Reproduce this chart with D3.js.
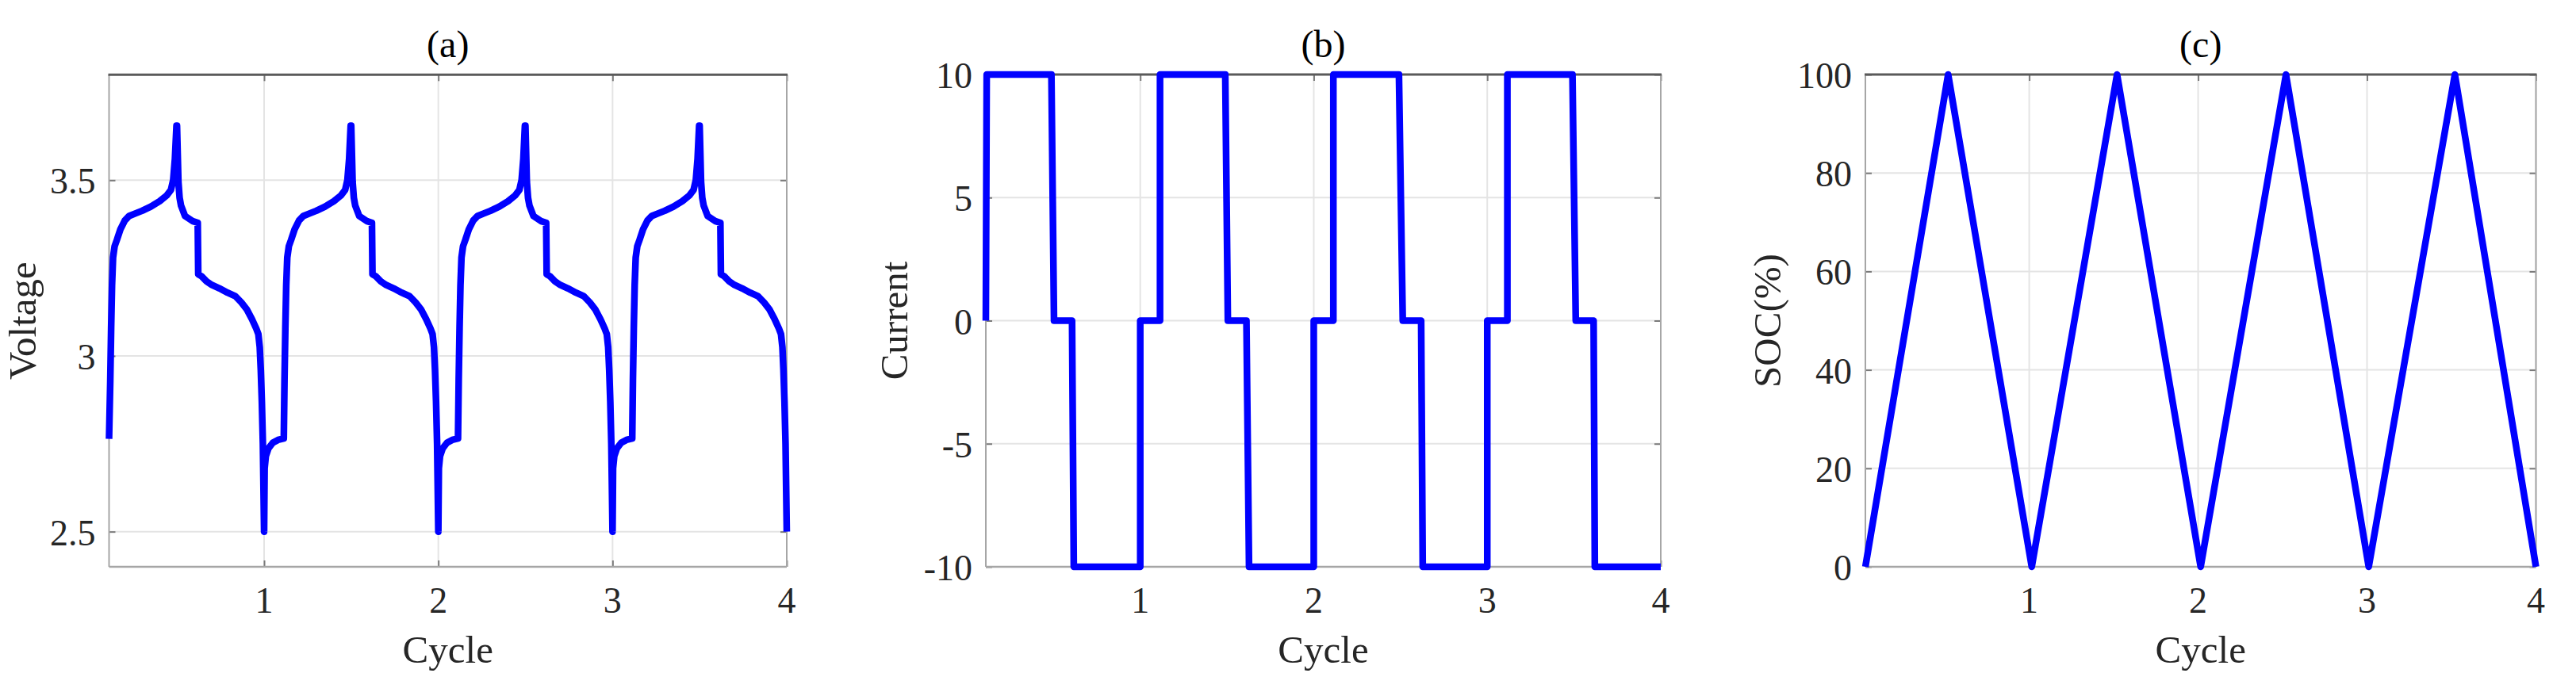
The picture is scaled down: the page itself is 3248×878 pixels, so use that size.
<!DOCTYPE html>
<html>
<head>
<meta charset="utf-8">
<script src="https://cdn.jsdelivr.net/npm/d3@7"></script>
<style>
  html, body { margin: 0; padding: 0; background: #ffffff; }
  svg { display: block; }
</style>
</head>
<body>
<svg id="chart" width="3248" height="878"></svg>
<script>
// ---------------- DATA ----------------
const panelTitles = ["(a)", "(b)", "(c)"];
const yLabels = ["Voltage", "Current", "SOC(%)"];
const xLabel = "Cycle";
const cycleTicks = [1, 2, 3, 4];
const voltageTicks = [2.5, 3, 3.5];
const currentTicks = [-10, -5, 0, 5, 10];
const socTicks = [0, 20, 40, 60, 80, 100];

// Voltage (panel a), cycle by cycle
const voltageX = [
  0.110, 0.117, 0.122, 0.127, 0.133, 0.142, 0.155, 0.175, 0.200, 0.225, 0.260, 0.300, 0.350, 0.400, 0.440, 0.465, 0.478, 0.488, 0.497, 0.500, 0.508, 0.515, 0.523, 0.546, 0.592, 0.619,
  0.622, 0.640, 0.670, 0.700, 0.744, 0.790, 0.835, 0.870, 0.900, 0.930, 0.955, 0.967, 0.975, 0.981, 0.987, 0.993, 1.000,
  1.003, 1.010, 1.025, 1.050, 1.080, 1.113,
  1.117, 1.122, 1.127, 1.133, 1.142, 1.155, 1.175, 1.200, 1.225, 1.260, 1.300, 1.350, 1.400, 1.440, 1.465, 1.478, 1.488, 1.497, 1.500, 1.508, 1.515, 1.523, 1.546, 1.592, 1.619,
  1.622, 1.640, 1.670, 1.700, 1.744, 1.790, 1.835, 1.870, 1.900, 1.930, 1.955, 1.967, 1.975, 1.981, 1.987, 1.993, 2.000,
  2.003, 2.010, 2.025, 2.050, 2.080, 2.113,
  2.117, 2.122, 2.127, 2.133, 2.142, 2.155, 2.175, 2.200, 2.225, 2.260, 2.300, 2.350, 2.400, 2.440, 2.465, 2.478, 2.488, 2.497, 2.500, 2.508, 2.515, 2.523, 2.546, 2.592, 2.619,
  2.622, 2.640, 2.670, 2.700, 2.744, 2.790, 2.835, 2.870, 2.900, 2.930, 2.955, 2.967, 2.975, 2.981, 2.987, 2.993, 3.000,
  3.003, 3.010, 3.025, 3.050, 3.080, 3.113,
  3.117, 3.122, 3.127, 3.133, 3.142, 3.155, 3.175, 3.200, 3.225, 3.260, 3.300, 3.350, 3.400, 3.440, 3.465, 3.478, 3.488, 3.497, 3.500, 3.508, 3.515, 3.523, 3.546, 3.592, 3.619,
  3.622, 3.640, 3.670, 3.700, 3.744, 3.790, 3.835, 3.870, 3.900, 3.930, 3.955, 3.967, 3.975, 3.981, 3.987, 3.993, 4.000
];
const voltageY = [
  2.764, 2.93, 3.08, 3.20, 3.28, 3.312, 3.33, 3.36, 3.385, 3.398, 3.405, 3.413, 3.425, 3.44, 3.456, 3.472, 3.50, 3.56, 3.655, 3.655, 3.496, 3.45, 3.428, 3.398, 3.383, 3.379,
  3.232, 3.227, 3.212, 3.202, 3.192, 3.18, 3.17, 3.152, 3.133, 3.105, 3.078, 3.062, 3.025, 2.96, 2.87, 2.75, 2.50,
  2.68, 2.715, 2.737, 2.753, 2.761, 2.765,
  2.93, 3.08, 3.20, 3.28, 3.312, 3.33, 3.36, 3.385, 3.398, 3.405, 3.413, 3.425, 3.44, 3.456, 3.472, 3.50, 3.56, 3.655, 3.655, 3.496, 3.45, 3.428, 3.398, 3.383, 3.379,
  3.232, 3.227, 3.212, 3.202, 3.192, 3.18, 3.17, 3.152, 3.133, 3.105, 3.078, 3.062, 3.025, 2.96, 2.87, 2.75, 2.50,
  2.68, 2.715, 2.737, 2.753, 2.761, 2.765,
  2.93, 3.08, 3.20, 3.28, 3.312, 3.33, 3.36, 3.385, 3.398, 3.405, 3.413, 3.425, 3.44, 3.456, 3.472, 3.50, 3.56, 3.655, 3.655, 3.496, 3.45, 3.428, 3.398, 3.383, 3.379,
  3.232, 3.227, 3.212, 3.202, 3.192, 3.18, 3.17, 3.152, 3.133, 3.105, 3.078, 3.062, 3.025, 2.96, 2.87, 2.75, 2.50,
  2.68, 2.715, 2.737, 2.753, 2.761, 2.765,
  2.93, 3.08, 3.20, 3.28, 3.312, 3.33, 3.36, 3.385, 3.398, 3.405, 3.413, 3.425, 3.44, 3.456, 3.472, 3.50, 3.56, 3.655, 3.655, 3.496, 3.45, 3.428, 3.398, 3.383, 3.379,
  3.232, 3.227, 3.212, 3.202, 3.192, 3.18, 3.17, 3.152, 3.133, 3.105, 3.078, 3.062, 3.025, 2.96, 2.87, 2.75, 2.50
];

// Current (panel b)
const currentX = [0.110, 0.115, 0.488, 0.503, 0.607, 0.617, 1.000, 1.000, 1.114, 1.114,
                  1.490, 1.505, 1.612, 1.627, 2.000, 2.000, 2.113, 2.113,
                  2.491, 2.513, 2.619, 2.628, 3.000, 3.000, 3.116, 3.116,
                  3.491, 3.510, 3.613, 3.620, 4.000];
const currentY = [0, 10, 10, 0, 0, -10, -10, 0, 0, 10,
                  10, 0, 0, -10, -10, 0, 0, 10,
                  10, 0, 0, -10, -10, 0, 0, 10,
                  10, 0, 0, -10, -10];

// SOC (panel c)
const socX = [0.030, 0.520, 1.015, 1.520, 2.015, 2.520, 3.010, 3.520, 4.000];
const socY = [0, 100, 0, 100, 0, 100, 0, 100, 0];

// ---------------- LAYOUT ----------------
const panels = [
  { left: 137.5, right: 992, top: 94.3, bottom: 715, xDomain: [0.11, 4], yDomain: [2.4, 3.8],
    xs: voltageX, ys: voltageY, yTicks: voltageTicks, title: panelTitles[0], yLabel: yLabels[0], yLabelX: 45 },
  { left: 1243, right: 2094, top: 94, bottom: 715, xDomain: [0.11, 4], yDomain: [-10, 10],
    xs: currentX, ys: currentY, yTicks: currentTicks, title: panelTitles[1], yLabel: yLabels[1], yLabelX: 1144 },
  { left: 2352, right: 3197.5, top: 94, bottom: 715, xDomain: [0.03, 4], yDomain: [0, 100],
    xs: socX, ys: socY, yTicks: socTicks, title: panelTitles[2], yLabel: yLabels[2], yLabelX: 2245 }
];

const FONT = "'Liberation Serif', 'Times New Roman', serif";
const svg = d3.select("#chart");
svg.append("rect").attr("width", 3248).attr("height", 878).attr("fill", "#ffffff");

panels.forEach(p => {
  const x = d3.scaleLinear().domain(p.xDomain).range([p.left, p.right]);
  const y = d3.scaleLinear().domain(p.yDomain).range([p.bottom, p.top]);
  const g = svg.append("g");

  // grid lines
  g.selectAll(".gx").data(cycleTicks).enter().append("line")
    .attr("x1", d => x(d)).attr("x2", d => x(d))
    .attr("y1", p.top).attr("y2", p.bottom)
    .attr("stroke", "#e4e4e4").attr("stroke-width", 2);
  g.selectAll(".gy").data(p.yTicks).enter().append("line")
    .attr("x1", p.left).attr("x2", p.right)
    .attr("y1", d => y(d)).attr("y2", d => y(d))
    .attr("stroke", "#e4e4e4").attr("stroke-width", 2);

  // axes via d3 (inner ticks, no labels) on all four sides
  const tl = 8;
  const axL = g.append("g").attr("transform", `translate(${p.left},0)`)
    .call(d3.axisRight(y).tickValues(p.yTicks).tickSize(tl).tickFormat(""));
  const axR = g.append("g").attr("transform", `translate(${p.right},0)`)
    .call(d3.axisLeft(y).tickValues(p.yTicks).tickSize(tl).tickFormat(""));
  const axB = g.append("g").attr("transform", `translate(0,${p.bottom})`)
    .call(d3.axisTop(x).tickValues(cycleTicks).tickSize(tl).tickFormat(""));
  const axT = g.append("g").attr("transform", `translate(0,${p.top})`)
    .call(d3.axisBottom(x).tickValues(cycleTicks).tickSize(tl).tickFormat(""));
  [axL, axR, axB, axT].forEach(a => {
    a.select(".domain").remove();
    a.selectAll(".tick line").attr("stroke", "#7a7a7a").attr("stroke-width", 2);
  });

  // box
  g.append("line").attr("x1", p.left).attr("x2", p.left).attr("y1", p.top).attr("y2", p.bottom)
    .attr("stroke", "#a6a6a6").attr("stroke-width", 2);
  g.append("line").attr("x1", p.right).attr("x2", p.right).attr("y1", p.top).attr("y2", p.bottom)
    .attr("stroke", "#a6a6a6").attr("stroke-width", 2);
  g.append("line").attr("x1", p.left).attr("x2", p.right).attr("y1", p.bottom).attr("y2", p.bottom)
    .attr("stroke", "#a6a6a6").attr("stroke-width", 2.5);
  g.append("line").attr("x1", p.left - 1).attr("x2", p.right + 1).attr("y1", p.top).attr("y2", p.top)
    .attr("stroke", "#5a5a5a").attr("stroke-width", 3);

  // tick labels
  g.selectAll(".yl").data(p.yTicks).enter().append("text")
    .attr("x", p.left - 17).attr("y", d => y(d) + 17)
    .attr("text-anchor", "end").attr("font-family", FONT).attr("font-size", 46)
    .attr("fill", "#262626").text(d => String(d));
  g.selectAll(".xl").data(cycleTicks).enter().append("text")
    .attr("x", d => x(d)).attr("y", 773)
    .attr("text-anchor", "middle").attr("font-family", FONT).attr("font-size", 46)
    .attr("fill", "#262626").text(d => String(d));

  // axis titles
  const cx = (p.left + p.right) / 2;
  const cy = (p.top + p.bottom) / 2;
  g.append("text").attr("x", cx).attr("y", 836).attr("text-anchor", "middle")
    .attr("font-family", FONT).attr("font-size", 49).attr("fill", "#262626").text(xLabel);
  g.append("text").attr("transform", `translate(${p.yLabelX},${cy}) rotate(-90)`)
    .attr("text-anchor", "middle").attr("font-family", FONT).attr("font-size", 49)
    .attr("fill", "#262626").text(p.yLabel);
  g.append("text").attr("x", cx).attr("y", 72).attr("text-anchor", "middle")
    .attr("font-family", FONT).attr("font-size", 48).attr("fill", "#000000").text(p.title);

  // data line
  const pts = p.xs.map((v, i) => [v, p.ys[i]]);
  g.append("path").datum(pts)
    .attr("d", d3.line().x(d => x(d[0])).y(d => y(d[1])))
    .attr("fill", "none").attr("stroke", "#0000ff").attr("stroke-width", 8.5)
    .attr("stroke-linejoin", "round").attr("stroke-linecap", "butt");
});
</script>
</body>
</html>
